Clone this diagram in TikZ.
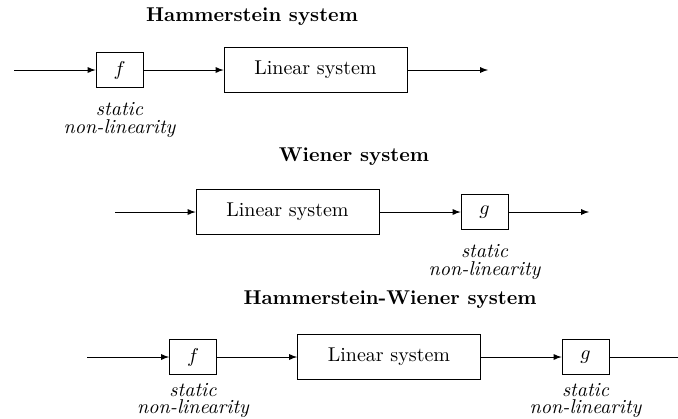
\documentclass[tikz,border=0pt]{standalone}
\usepackage{tikz}
\usetikzlibrary{arrows}
\usetikzlibrary{positioning}

\tikzset{
  sysbox/.style={draw, minimum width=91.5pt, minimum height=22.5pt, inner sep=0pt},
  nlbox/.style={draw, minimum width=23.5pt, minimum height=17.5pt, inner sep=0pt},
  nllabel/.style={inner sep=0pt, font=\itshape},
  systitle/.style={font=\bfseries},
  sig/.style={-latex}
}

\begin{document}
\begin{tikzpicture}[x=0.5pt, y=-0.5pt]
  \useasboundingbox (0, 0) rectangle (678, 418);

  % Hammerstein system
  \node[systitle] (title1) at (252, 17) {Hammerstein system};
  \coordinate (in1) at (14, 70);
  \node[nlbox] (f1) at (119.5, 70) {$f$};
  \node[sysbox] (lin1) at (315.5, 70) {Linear system};
  \coordinate (out1) at (488, 70);
  \node[nllabel, below=7pt of f1] (lab1a) {static};
  \node[nllabel, below=1.5pt of lab1a] (lab1b) {non-linearity};
  \draw[sig] (in1) -- (f1);
  \draw[sig] (f1) -- (lin1);
  \draw[sig] (lin1) -- (out1);

  % Wiener system
  \node[systitle] (title2) at (354, 157) {Wiener system};
  \coordinate (in2) at (115, 212);
  \node[sysbox] (lin2) at (287.5, 212) {Linear system};
  \node[nlbox] (g2) at (484.5, 212) {$g$};
  \coordinate (out2) at (589, 212);
  \node[nllabel, below=7pt of g2] (lab2a) {static};
  \node[nllabel, below=1.5pt of lab2a] (lab2b) {non-linearity};
  \draw[sig] (in2) -- (lin2);
  \draw[sig] (lin2) -- (g2);
  \draw[sig] (g2) -- (out2);

  % Hammerstein-Wiener system
  \node[systitle] (title3) at (390, 300) {Hammerstein-Wiener system};
  \coordinate (in3) at (87, 357);
  \node[nlbox] (f3) at (193, 357) {$f$};
  \node[sysbox] (lin3) at (389, 357) {Linear system};
  \node[nlbox] (g3) at (585.5, 357) {$g$};
  \coordinate (out3) at (678, 357);
  \node[nllabel, below=4pt of f3] (lab3a) {static};
  \node[nllabel, below=1.2pt of lab3a] (lab3b) {non-linearity};
  \node[nllabel, below=4pt of g3] (lab4a) {static};
  \node[nllabel, below=1.2pt of lab4a] (lab4b) {non-linearity};
  \draw[sig] (in3) -- (f3);
  \draw[sig] (f3) -- (lin3);
  \draw[sig] (lin3) -- (g3);
  \draw (g3) -- (out3);

\end{tikzpicture}
\end{document}
